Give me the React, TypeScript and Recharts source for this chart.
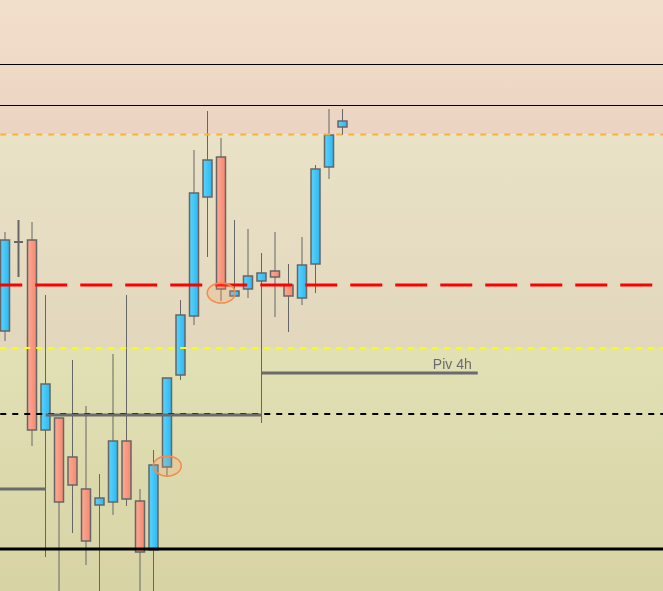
import React from 'react';
import {
  ComposedChart,
  Bar,
  XAxis,
  YAxis,
  ReferenceLine,
  ReferenceArea,
  ReferenceDot
} from 'recharts';

// OHLC (price units, one candle per slot)
const opens = [1.0669, 1.0758, 1.0760, 1.0570, 1.0582, 1.0543, 1.0511, 1.0495, 1.0498, 1.0559, 1.0499, 1.0450, 1.0533, 1.0625, 1.0684, 1.0803, 1.0843, 1.0704, 1.0711, 1.0719, 1.0729, 1.0715, 1.0702, 1.0736, 1.0833, 1.0873];
const highs = [1.0768, 1.0780, 1.0778, 1.0705, 1.0582, 1.0640, 1.0594, 1.0526, 1.0646, 1.0705, 1.0511, 1.0550, 1.0622, 1.0700, 1.0850, 1.0889, 1.0862, 1.0780, 1.0771, 1.0747, 1.0768, 1.0736, 1.0763, 1.0835, 1.0891, 1.0891];
const lows = [1.0659, 1.0723, 1.0554, 1.0443, 1.0400, 1.0467, 1.0435, 1.0400, 1.0485, 1.0494, 1.0400, 1.0400, 1.0523, 1.0620, 1.0675, 1.0743, 1.0699, 1.0704, 1.0702, 1.0577, 1.0683, 1.0668, 1.0695, 1.0707, 1.0821, 1.0865];
const closes = [1.0760, 1.0758, 1.0570, 1.0616, 1.0498, 1.0515, 1.0459, 1.0502, 1.0559, 1.0501, 1.0448, 1.0535, 1.0622, 1.0685, 1.0807, 1.0840, 1.0711, 1.0709, 1.0724, 1.0727, 1.0723, 1.0704, 1.0735, 1.0831, 1.0865, 1.0879];

// slot -1 is before the first candle, empty slots follow the last one
const firstSlot = -1;
const slotCount = 51;

// levels
const yDomain = [1.0409, 1.1];
const blackLines = [1.09355, 1.08945];
const orangeLevel = 1.08655;
const redLevel = 1.0715;
const yellowLevel = 1.0652;
const blackDashLevel = 1.0586;
const supportLevel = 1.0451;

// pivot segments: [from slot, to slot, price]
const pivots: [number, number, number][] = [
  [-1, 3, 1.0511],
  [3, 19, 1.0585],
  [19, 35, 1.0627]
];
const pivLabel = 'Piv 4h';

// highlighted spots: [slot, price]
const marks: [number, number][] = [
  [16, 1.0707],
  [12, 1.0534]
];

const data = Array.from({ length: slotCount }, (_, k) => {
  const t = firstSlot + k;
  if (t < 0 || t >= opens.length) return { t };
  return { t, open: opens[t], high: highs[t], low: lows[t], close: closes[t] };
});

const Candle = (props: any) => {
  const { x, y, width, height, payload } = props;
  if (!payload || payload.open == null) return null;
  const { open, high, low, close } = payload;
  const top0 = Math.min(y, y + height);
  const h = Math.abs(height);
  const ratio = h / (high - low);
  const py = (v: number) => top0 + (high - v) * ratio;
  const cx = x + width / 2;
  if (open === close) {
    return (
      <g>
        <line x1={cx} x2={cx} y1={top0} y2={top0 + h} stroke="#666" strokeWidth={2} />
        <line x1={x} x2={x + width} y1={py(open)} y2={py(open)} stroke="#666" strokeWidth={2} />
      </g>
    );
  }
  const up = close > open;
  const bTop = py(Math.max(open, close));
  const bBot = py(Math.min(open, close));
  return (
    <g>
      <line x1={cx} x2={cx} y1={top0} y2={top0 + h} stroke="#666" strokeWidth={1} />
      <rect
        x={x}
        y={bTop}
        width={width}
        height={Math.max(bBot - bTop, 1)}
        fill={up ? 'url(#bull)' : 'url(#bear)'}
        stroke="#666"
        strokeWidth={1.5}
      />
    </g>
  );
};

const Ring = (props: any) => (
  <ellipse
    cx={props.cx}
    cy={props.cy}
    rx={14}
    ry={10}
    fill="rgba(246,160,100,0.22)"
    stroke="#f68a4c"
    strokeWidth={1.5}
  />
);

export default function App() {
  return (
    <div style={{ position: 'fixed', left: 0, top: 0, width: 663, height: 591, overflow: 'hidden' }}>
      <div style={{ position: 'absolute', left: -15.25, top: 0 }}>
        <ComposedChart width={688.5} height={591} data={data} margin={{ top: 0, right: 0, bottom: 0, left: 0 }}>
          <defs>
            <linearGradient id="bull" x1="0" y1="0" x2="1" y2="0">
              <stop offset="0%" stopColor="#5bd3fb" />
              <stop offset="100%" stopColor="#2db8f2" />
            </linearGradient>
            <linearGradient id="bear" x1="0" y1="0" x2="1" y2="0">
              <stop offset="0%" stopColor="#fcaa96" />
              <stop offset="100%" stopColor="#f5886e" />
            </linearGradient>
            <linearGradient id="zoneA" x1="0" y1="0" x2="0" y2="1">
              <stop offset="0%" stopColor="#f2dfca" />
              <stop offset="100%" stopColor="#ebd4c2" />
            </linearGradient>
            <linearGradient id="zoneB" x1="0" y1="0" x2="0" y2="1">
              <stop offset="0%" stopColor="#e9e2c7" />
              <stop offset="100%" stopColor="#e2d7bc" />
            </linearGradient>
            <linearGradient id="zoneC" x1="0" y1="0" x2="0" y2="1">
              <stop offset="0%" stopColor="#e1e1b5" />
              <stop offset="100%" stopColor="#d7d3a5" />
            </linearGradient>
          </defs>
          <XAxis dataKey="t" type="category" hide />
          <YAxis type="number" domain={yDomain} allowDataOverflow hide />

          <ReferenceArea y1={orangeLevel} y2={yDomain[1]} fill="url(#zoneA)" fillOpacity={1} stroke="none" />
          <ReferenceArea y1={yellowLevel} y2={orangeLevel} fill="url(#zoneB)" fillOpacity={1} stroke="none" />
          <ReferenceArea y1={yDomain[0]} y2={yellowLevel} fill="url(#zoneC)" fillOpacity={1} stroke="none" />

          {blackLines.map((v) => (
            <ReferenceLine key={v} y={v} stroke="#000" strokeWidth={1} />
          ))}
          <ReferenceLine y={orangeLevel} stroke="#f9b434" strokeWidth={2} strokeDasharray="6 6" strokeDashoffset={8.75} />
          <ReferenceLine y={yellowLevel} stroke="#ffff00" strokeWidth={2} strokeDasharray="6 6" strokeDashoffset={8.75} />
          <ReferenceLine y={blackDashLevel} stroke="#000" strokeWidth={2} strokeDasharray="6 6" strokeDashoffset={8.75} />

          {pivots.map(([a, b, v], i) => (
            <ReferenceLine
              key={i}
              segment={[{ x: a, y: v }, { x: b, y: v }]}
              stroke="#6b6b6b"
              strokeWidth={3}
              label={
                i === 2
                  ? { value: pivLabel, position: 'insideBottomRight', offset: 4, dx: -2, fill: '#6b6b6b', fontSize: 14, fontFamily: 'Liberation Sans, Arial, sans-serif' }
                  : undefined
              }
            />
          ))}

          <Bar dataKey={(d: any) => (d.open == null ? undefined : [d.low, d.high])} barSize={9} shape={<Candle />} isAnimationActive={false} />

          <ReferenceLine y={redLevel} stroke="#ff0000" strokeWidth={3} strokeDasharray="32 13" strokeDashoffset={39.75} />
          <ReferenceLine y={supportLevel} stroke="#000" strokeWidth={3} />

          {marks.map(([t, v], i) => (
            <ReferenceDot key={i} x={t} y={v} r={10} shape={<Ring />} />
          ))}
        </ComposedChart>
      </div>
    </div>
  );
}
